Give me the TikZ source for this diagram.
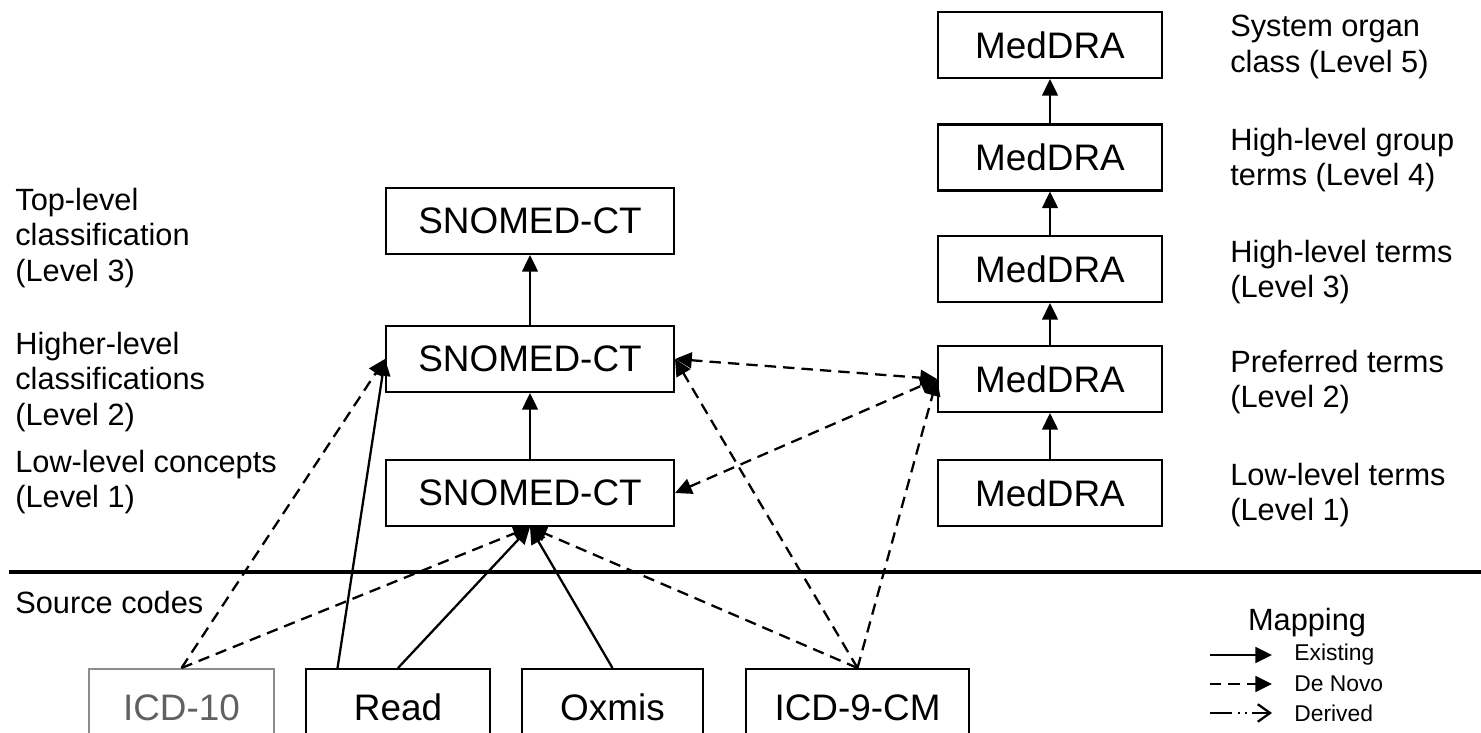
\documentclass[tikz,border=0pt]{standalone}
\usepackage{fontspec}
\setmainfont{Liberation Sans}
\usetikzlibrary{arrows.meta,calc}
\begin{document}
\begin{tikzpicture}[x=0.02cm,y=-0.02cm,
  box/.style={draw, line width=1.2pt, inner sep=0pt, font=\fontsize{21}{25}\selectfont},
  sbox/.style={box, minimum width=5.76cm, minimum height=1.32cm},
  mbox/.style={box, minimum width=4.48cm, minimum height=1.32cm},
  srcbox/.style={box, minimum height=1.54cm, anchor=north},
  lbl/.style={anchor=west, align=left, inner sep=0pt, font=\fontsize{17.5}{20.4}\selectfont},
  existing/.style={line width=1.3pt, -{Triangle[length=9.5pt,width=9pt]}},
  denovo/.style={existing, dash pattern=on 6.5pt off 4pt},
  both/.style={line width=1.3pt, dash pattern=on 6.5pt off 4pt, {Triangle[length=9.5pt,width=9pt]}-{Triangle[length=9.5pt,width=9pt]}},
  derived/.style={line width=1.3pt, dash pattern=on 12.5pt off 3.5pt on 1pt off 3pt on 1pt off 3pt, -{Straight Barb[length=7pt,width=10pt,line width=1.3pt]}},
  legtxt/.style={anchor=west, inner sep=0pt, font=\fontsize{13}{15}\selectfont}]
\useasboundingbox (0,0) rectangle (1481,733);
\clip (0,0) rectangle (1481,733);

% SNOMED-CT column
\node[sbox] (s3) at (530,221) {SNOMED-CT};
\node[sbox] (s2) at (530,359) {SNOMED-CT};
\node[sbox] (s1) at (530,493) {SNOMED-CT};

% MedDRA column
\node[mbox] (m5) at (1050,45) {MedDRA};
\node[mbox] (m4) at (1050,157.5) {MedDRA};
\node[mbox] (m3) at (1050,269) {MedDRA};
\node[mbox] (m2) at (1050,379) {MedDRA};
\node[mbox] (m1) at (1050,493) {MedDRA};

% Source code boxes
\node[srcbox, draw=black!45, text=black!62, minimum width=3.70cm] (icd10) at (181.5,668) {ICD-10};
\node[srcbox, minimum width=3.68cm] (read) at (398,668) {Read};
\node[srcbox, minimum width=3.62cm] (oxmis) at (612.5,668) {Oxmis};
\node[srcbox, minimum width=4.46cm] (icd9) at (857.5,668) {ICD-9-CM};

% separator
\coordinate (sepL) at (9,572);
\coordinate (sepR) at (1481,572);
\draw[line width=1.8pt] (sepL) -- (sepR);

% left labels
\node[lbl] (l3) at (15,238) {Top-level\\classification\\(Level 3)};
\node[lbl] (l2) at (15,382) {Higher-level\\classifications\\(Level 2)};
\node[lbl] (l1) at (15,482) {Low-level concepts\\(Level 1)};
\node[lbl] (l0) at (15,603) {Source codes};

% right labels
\node[lbl] (r5) at (1230,47) {System organ\\class (Level 5)};
\node[lbl] (r4) at (1230,160) {High-level group\\terms (Level 4)};
\node[lbl] (r3) at (1230,272) {High-level terms\\(Level 3)};
\node[lbl] (r2) at (1230,382) {Preferred terms\\(Level 2)};
\node[lbl] (r1) at (1230,495) {Low-level terms\\(Level 1)};

% hierarchy arrows
\draw[existing] (s1) -- (s2);
\draw[existing] (s2) -- (s3);
\draw[existing] (m1) -- (m2);
\draw[existing] (m2) -- (m3);
\draw[existing] (m3) -- (m4);
\draw[existing] (m4) -- (m5);

% source mappings
\coordinate (readL) at ($(read.north west)!0.175!(read.north east)$);
\draw[existing] (readL) -- (s2.west);
\draw[existing] (read.north) -- (s1.south);
\draw[existing] (oxmis.north) -- (s1.south);
\draw[denovo] (icd10.north) -- (s2.west);
\draw[denovo] (icd10.north) -- (s1.south);
\draw[denovo] (icd9.north) -- (s1.south);
\draw[denovo] (icd9.north) -- (s2.east);
\draw[denovo] (icd9.north) -- (m2.west);

% SNOMED <-> MedDRA
\draw[both] (s2.east) -- (m2.west);
\draw[both] (s1.east) -- (m2.west);

% legend
\node[anchor=center, inner sep=0pt, font=\fontsize{17.5}{20}\selectfont] (legtitle) at (1307,623) {Mapping};
\coordinate (e0) at (1210,655); \coordinate (e1) at (1272,655);
\coordinate (d0) at (1210,684); \coordinate (d1) at (1272,684);
\coordinate (v0) at (1210,713); \coordinate (v1) at (1272,713);
\draw[existing] (e0) -- (e1);
\draw[denovo] (d0) -- (d1);
\draw[derived] (v0) -- (v1);
\node[legtxt] (t1) at (1294,655) {Existing};
\node[legtxt] (t2) at (1294,684) {De Novo};
\node[legtxt] (t3) at (1294,713) {Derived};
\end{tikzpicture}
\end{document}
